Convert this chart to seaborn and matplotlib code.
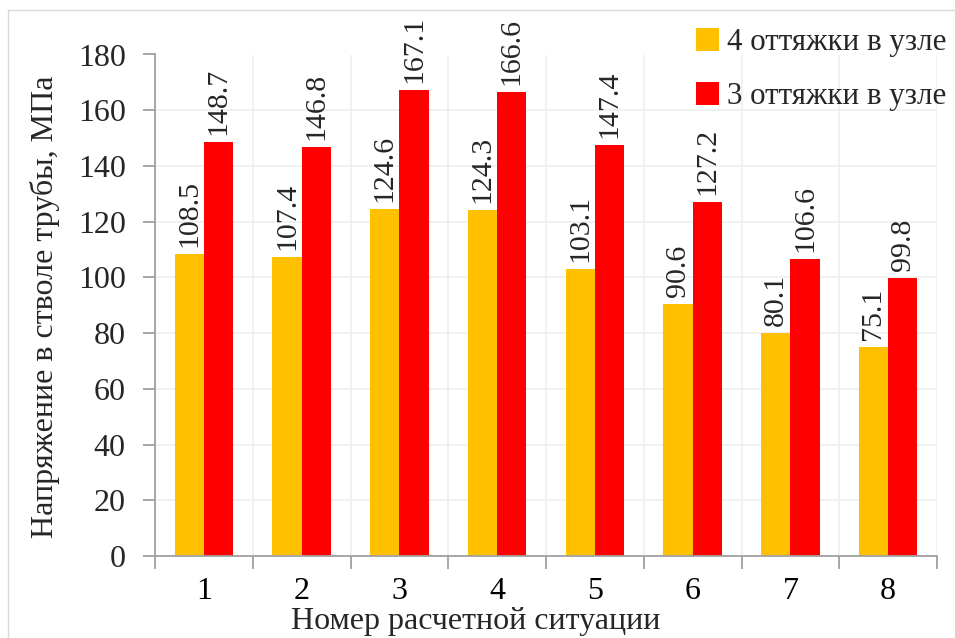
import matplotlib
matplotlib.use("Agg")
import matplotlib.pyplot as plt
import seaborn as sns
import pandas as pd
from matplotlib.patches import Patch
from matplotlib.lines import Line2D

categories = ["1", "2", "3", "4", "5", "6", "7", "8"]
series_names = ["4 оттяжки в узле", "3 оттяжки в узле"]
values_4 = [108.5, 107.4, 124.6, 124.3, 103.1, 90.6, 80.1, 75.1]
values_3 = [148.7, 146.8, 167.1, 166.6, 147.4, 127.2, 106.6, 99.8]
colors = ["#FFC000", "#FF0000"]
yticks = [0, 20, 40, 60, 80, 100, 120, 140, 160, 180]

df = pd.DataFrame({
    "cat": categories * 2,
    "series": [series_names[0]] * len(categories) + [series_names[1]] * len(categories),
    "val": values_4 + values_3,
})

sns.set_theme(style="white")
plt.rcParams["font.family"] = ["Liberation Serif", "DejaVu Serif"]

fig = plt.figure(figsize=(9.55, 6.38), dpi=100)
ax = fig.add_axes([155/955, 1-556/638, (937-155)/955, (556-54.5)/638])

sns.barplot(data=df, x="cat", y="val", hue="series", palette=colors,
            width=0.6, saturation=1, ax=ax, legend=False, order=categories,
            hue_order=series_names, edgecolor="none")

for cont, vals in zip(ax.containers, [values_4, values_3]):
    ax.bar_label(cont, labels=[f"{v:.1f}" for v in vals], rotation=90,
                 padding=5, fontsize=21.5)

ax.set_ylim(0, 180)
ax.set_xlim(-0.5, 7.5)
ax.set_yticks(yticks)
ax.set_yticklabels([str(t) for t in yticks], fontsize=23)
ax.set_xticks(range(len(categories)))
ax.set_xticklabels(categories, fontsize=23)
ax.set_xticks([i - 0.5 for i in range(len(categories) + 1)], minor=True)

spine_c = "#A0A0A0"
for s in ["top", "right"]:
    ax.spines[s].set_visible(False)
for s in ["left", "bottom"]:
    ax.spines[s].set_color(spine_c)
    ax.spines[s].set_linewidth(1.3)

ax.tick_params(axis="x", which="major", length=0, pad=15, colors="black")
ax.tick_params(axis="x", which="minor", length=9, width=1.3, color=spine_c, bottom=True)
ax.tick_params(axis="y", which="major", length=9, width=1.3, color=spine_c, left=True, pad=12)

ax.grid(False)
ax.grid(True, axis="y", which="major", color="#EFEFEF", linewidth=1.2)
ax.grid(True, axis="x", which="minor", color="#EFEFEF", linewidth=1.2)
ax.set_axisbelow(True)

ax.set_xlabel("Номер расчетной ситуации", fontsize=23, va="center")
ax.xaxis.set_label_coords((476-155)/782, (556-622)/501.5)
ax.set_ylabel("Напряжение в стволе трубы, МПа", fontsize=23, va="center")
ax.yaxis.set_label_coords((45-155)/782, (556-307)/501.5)

handles = [Patch(facecolor=c, edgecolor="none") for c in colors]
fig.legend(handles, series_names, loc="upper left",
           bbox_to_anchor=(696/955, 1-28/638), frameon=False, fontsize=22.3,
           handlelength=0.75, handleheight=0.75, handletextpad=0.25,
           labelspacing=0.8, borderpad=0, borderaxespad=0)

fig.add_artist(Line2D([8/955, 8/955, 1.0], [0.0, 1-10/638, 1-10/638],
                      transform=fig.transFigure, color="#D9D9D9", linewidth=1))

fig.savefig("out.png", dpi=100)
